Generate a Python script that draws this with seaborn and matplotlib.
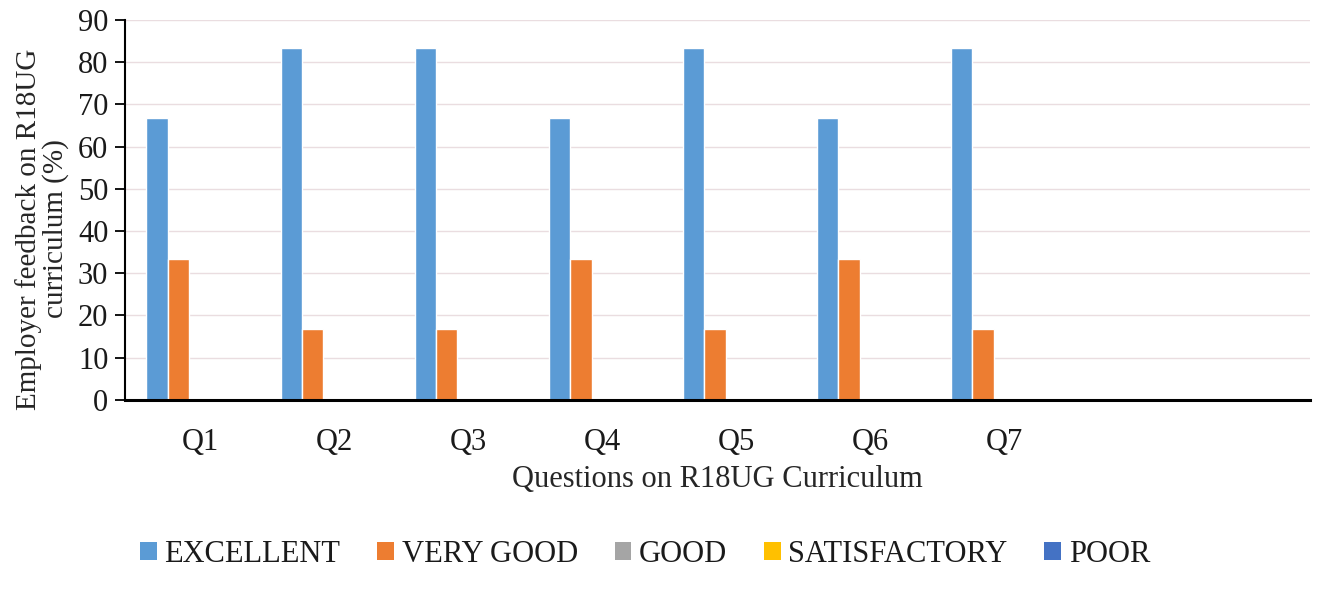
import pandas as pd
import matplotlib.pyplot as plt
import seaborn as sns
from matplotlib.patches import Patch

# ─────────────────────────────────────────
#  DATA
# ─────────────────────────────────────────
QUESTIONS = ["Q1", "Q2", "Q3", "Q4", "Q5", "Q6", "Q7"]
RATINGS = ["EXCELLENT", "VERY GOOD", "GOOD", "SATISFACTORY", "POOR"]

EXCELLENT    = [66.7, 83.3, 83.3, 66.7, 83.3, 66.7, 83.3]
VERY_GOOD    = [33.3, 16.7, 16.7, 33.3, 16.7, 33.3, 16.7]
GOOD         = [0, 0, 0, 0, 0, 0, 0]
SATISFACTORY = [0, 0, 0, 0, 0, 0, 0]
POOR         = [0, 0, 0, 0, 0, 0, 0]

COLORS = ["#5B9BD5", "#ED7D31", "#A5A5A5", "#FFC000", "#4472C4"]

# long-form table for seaborn
series = [EXCELLENT, VERY_GOOD, GOOD, SATISFACTORY, POOR]
rows = []
for rating, vals in zip(RATINGS, series):
    for q, v in zip(QUESTIONS, vals):
        rows.append({"Question": q, "Rating": rating, "Value": v})
df = pd.DataFrame(rows)

# ─────────────────────────────────────────
#  STYLE
# ─────────────────────────────────────────
sns.set_theme(style="white")
plt.rcParams["font.family"] = ["Liberation Serif", "DejaVu Serif"]
plt.rcParams["text.color"] = "#1a1a1a"

FS = 22

fig = plt.figure(figsize=(13.3, 6.04), dpi=100)
ax = fig.add_axes([0.094, 0.338, 0.891, 0.629])

sns.barplot(data=df, x="Question", y="Value", hue="Rating",
            order=QUESTIONS, hue_order=RATINGS, palette=COLORS,
            width=0.8, saturation=1, ax=ax, legend=False)

ax.set_xlim(-0.56, 8.28)
ax.set_ylim(0, 90)
ax.set_yticks(range(0, 91, 10))
ax.set_xticks(range(len(QUESTIONS)))
ax.set_xticklabels(QUESTIONS)

ax.yaxis.grid(True, color="#eadde0", linewidth=1.0)
ax.set_axisbelow(True)

for side in ["top", "right"]:
    ax.spines[side].set_visible(False)
ax.spines["left"].set_color("black")
ax.spines["left"].set_linewidth(1.5)
ax.spines["bottom"].set_color("black")
ax.spines["bottom"].set_linewidth(2.2)

ax.tick_params(axis="y", which="both", left=True, length=7, width=1.3,
               labelsize=FS, pad=5, colors="black")
ax.tick_params(axis="x", bottom=False, labelsize=FS, pad=14, colors="black")
for lbl in ax.get_yticklabels() + ax.get_xticklabels():
    lbl.set_color("#1a1a1a")

ax.set_xlabel("Questions on R18UG Curriculum", fontsize=FS, labelpad=6)
ax.set_ylabel("Employer feedback on R18UG\ncurriculum (%)", fontsize=21,
              linespacing=1.0)
ax.yaxis.set_label_coords(-0.047, 0.45)

handles = [Patch(facecolor=c, edgecolor="none") for c in COLORS]
fig.legend(handles, RATINGS, loc="center", bbox_to_anchor=(0.485, 0.082),
           ncol=5, frameon=False, fontsize=FS, handlelength=0.55,
           handleheight=0.55, handletextpad=0.25, columnspacing=1.2)

fig.savefig("out.png", dpi=100, facecolor="white")
